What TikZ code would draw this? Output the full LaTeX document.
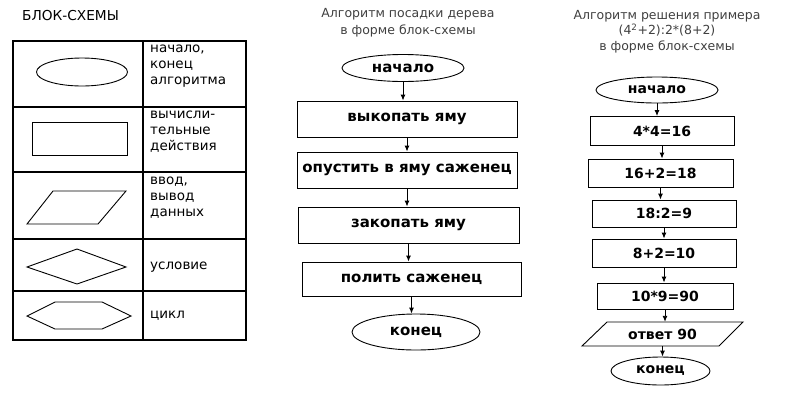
\documentclass[tikz,border=0pt]{standalone}
\usepackage{fontspec}
\setmainfont{DejaVu Sans}
\usetikzlibrary{shapes.geometric,arrows.meta}
\begin{document}
\begin{tikzpicture}[x=1pt,y=-1pt,
  shp/.style={draw,line width=0.9pt},
  tbl/.style={draw,line width=1.2pt},
  blk/.style={draw,line width=0.9pt,rectangle,inner sep=0pt,font=\fontsize{14}{16}\selectfont\bfseries},
  ell/.style={draw,line width=0.9pt,ellipse,inner sep=0pt,font=\fontsize{14}{16}\selectfont\bfseries},
  big/.style={font=\fontsize{15}{17}\selectfont\bfseries},
  par/.style={inner sep=0pt,font=\fontsize{14}{16}\selectfont\bfseries},
  arr/.style={line width=0.9pt,-{Latex[length=6pt,width=5pt]}},
  lbl/.style={anchor=west,inner sep=0pt,font=\fontsize{13.5}{16}\selectfont,align=left},
  ttl/.style={inner sep=0pt,font=\fontsize{12.5}{17}\selectfont,align=center,text=black!75}]
\useasboundingbox (0,0) rectangle (800,408);

% ---- legend ----
\node[anchor=west,inner sep=0pt,font=\fontsize{13.7}{15}\selectfont] (hdr) at (22,16) {БЛОК-СХЕМЫ};
\draw[tbl] (13,41) rectangle (246,340);
\draw[tbl] (143,41) -- (143,340);
\foreach \yy in {107,172,239,291} \draw[tbl] (13,\yy) -- (246,\yy);

\draw[shp] (82,72) ellipse [x radius=45.5, y radius=14];
\draw[shp] (32,122) rectangle (127,155);
\draw[shp] (53,191) -- (126,191) -- (98,224) -- (27,224) -- cycle;
\draw[shp] (27,267) -- (77,249) -- (126,267) -- (77,284) -- cycle;
\draw[shp] (27,316) -- (55,302) -- (102,302) -- (131,316) -- (102,329) -- (55,329) -- cycle;

\node[lbl] (l1) at (150,66) {начало,\\конец\\алгоритма};
\node[lbl] (l2) at (150,132) {вычисли-\\тельные\\действия};
\node[lbl] (l3) at (150,198) {ввод,\\вывод\\данных};
\node[lbl] (l4) at (150,267) {условие};
\node[lbl] (l5) at (150,316) {цикл};

% ---- middle flowchart ----
\node[ttl] (t1) at (408,22.5) {Алгоритм посадки дерева\\в форме блок-схемы};
\node[ell,big,minimum width=122,minimum height=27] (m0) at (403,68) {начало};
\node[blk,big,minimum width=220,minimum height=36] (m1) at (407,119) {выкопать яму};
\node[blk,big,minimum width=220,minimum height=36] (m2) at (407,170) {опустить в яму саженец};
\node[blk,big,minimum width=221,minimum height=36] (m3) at (408.5,225) {закопать яму};
\node[blk,big,minimum width=219,minimum height=34] (m4) at (411.5,279) {полить саженец};
\node[ell,big,minimum width=128,minimum height=36] (m5) at (416,332) {конец};
\draw[arr] (m0.south) -- (m0.south |- m1.north);
\draw[arr] (m1.south) -- (m1.south |- m2.north);
\draw[arr] (m2.south) -- (m2.south |- m3.north);
\draw[arr] (m3.south) -- (m3.south |- m4.north);
\draw[arr] (m4.south) -- (m4.south |- m5.north);

% ---- right flowchart ----
\node[ttl,font=\fontsize{12.5}{15.5}\selectfont] (t2) at (667,31.5) {Алгоритм решения примера\\(4\textsuperscript{2}+2):2*(8+2)\\в форме блок-схемы};
\node[ell,minimum width=122,minimum height=26] (r0) at (657,90) {начало};
\node[blk,minimum width=144,minimum height=29] (r1) at (662,131) {4*4=16};
\node[blk,minimum width=145,minimum height=28] (r2) at (660.5,173) {16+2=18};
\node[blk,minimum width=144,minimum height=27] (r3) at (664,213.5) {18:2=9};
\node[blk,minimum width=144,minimum height=28] (r4) at (664,253) {8+2=10};
\node[blk,minimum width=136,minimum height=26] (r5) at (665,296) {10*9=90};
\draw[shp] (607,322) -- (743,322) -- (719,346) -- (582,346) -- cycle;
\node[par,minimum height=24] (r6) at (662.5,334) {ответ 90};
\node[ell,minimum width=99,minimum height=28] (r7) at (660.5,371) {конец};
\draw[arr] (r0.south) -- (r0.south |- r1.north);
\draw[arr] (r1.south) -- (r1.south |- r2.north);
\draw[arr] (r2.south) -- (r2.south |- r3.north);
\draw[arr] (r3.south) -- (r3.south |- r4.north);
\draw[arr] (r4.south) -- (r4.south |- r5.north);
\draw[arr] (r5.south) -- (r5.south |- r6.north);
\draw[arr] (r6.south) -- (r6.south |- r7.north);
\end{tikzpicture}
\end{document}
